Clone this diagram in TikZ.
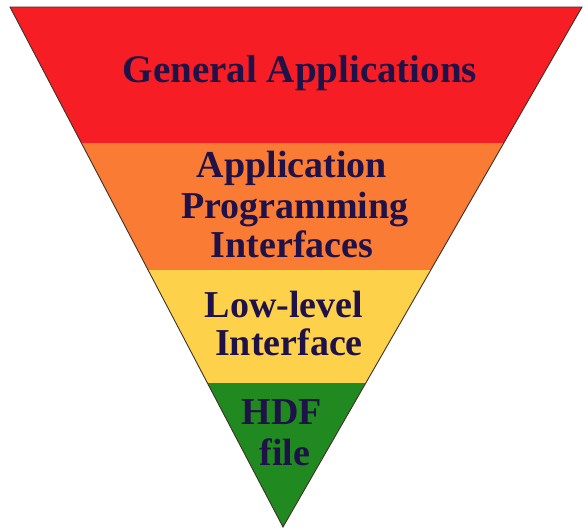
\documentclass[tikz,border=0pt]{standalone}
\usepackage{fontspec}
\setmainfont{Liberation Serif}
\usetikzlibrary{calc}
\definecolor{bandred}{RGB}{246,30,36}
\definecolor{bandorange}{RGB}{249,123,52}
\definecolor{bandyellow}{RGB}{253,209,74}
\definecolor{bandgreen}{RGB}{32,138,32}
\definecolor{txt}{RGB}{30,18,72}
\definecolor{edge}{RGB}{60,50,40}
\tikzset{
  lbl/.style={anchor=base, inner sep=0pt, text=txt, font=\fontsize{38}{40}\selectfont\bfseries},
  band/.style={draw=none}
}
\begin{document}
\begin{tikzpicture}[x=1pt,y=-1pt]
\useasboundingbox (0,0) rectangle (584,531);
\fill[white] (0,0) rectangle (584,531);
\coordinate (A) at (10,7);
\coordinate (B) at (582,7);
\coordinate (C) at (283,527);
\coordinate (L1) at ($(A)!{136/520}!(C)$);
\coordinate (R1) at ($(B)!{136/520}!(C)$);
\coordinate (L2) at ($(A)!{263/520}!(C)$);
\coordinate (R2) at ($(B)!{263/520}!(C)$);
\coordinate (L3) at ($(A)!{376/520}!(C)$);
\coordinate (R3) at ($(B)!{376/520}!(C)$);
\fill[bandred] (A) -- (B) -- (R1) -- (L1) -- cycle;
\fill[bandorange] (L1) -- (R1) -- (R2) -- (L2) -- cycle;
\fill[bandyellow] (L2) -- (R2) -- (R3) -- (L3) -- cycle;
\fill[bandgreen] (L3) -- (R3) -- (C) -- cycle;
\draw[edge, line width=0.9pt, line join=miter] (A) -- (B) -- (C) -- cycle;
\node[lbl, font=\fontsize{39}{40}\selectfont\bfseries] (t1) at (300,82) {General Applications};
\node[lbl] (t2) at (292,177) {Application};
\node[lbl] (t3) at (295,218) {Programming};
\node[lbl] (t4) at (292,257) {Interfaces};
\node[lbl] (t5) at (284,317) {Low-level};
\node[lbl] (t6) at (289,355) {Interface};
\node[lbl] (t7) at (282,424) {HDF};
\node[lbl] (t8) at (285,465) {file};
\end{tikzpicture}
\end{document}
